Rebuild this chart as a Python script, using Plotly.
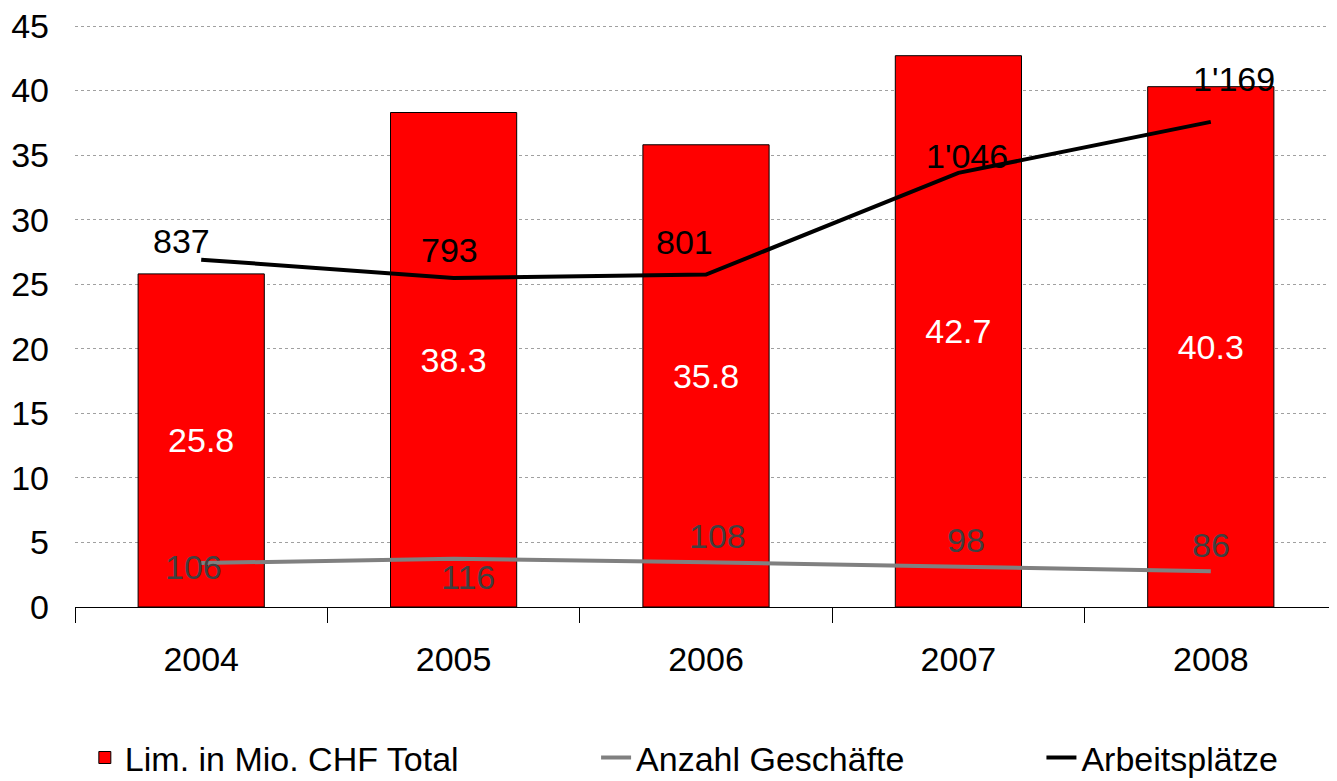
import plotly.graph_objects as go

years = ["2004", "2005", "2006", "2007", "2008"]
lim_chf = [25.8, 38.3, 35.8, 42.7, 40.3]
anzahl = [106, 116, 108, 98, 86]
arbeitsplaetze = [837, 793, 801, 1046, 1169]
arbeits_labels = ["837", "793", "801", "1'046", "1'169"]
anzahl_labels = ["106", "116", "108", "98", "86"]

# label offsets (pixels) as placed in the original chart
arbeits_shift = [(-20, 19), (-4, 28), (-22, 33), (9, 17), (23, 43)]
anzahl_shift = [(-8, -4), (14, -18), (11, 26), (8, 26), (0, 26)]

FONT = "Liberation Sans, Arial, sans-serif"
FS = 34

Y_MAX = 45.232          # a little above 45 so the top gridline is drawn
Y2_MAX = 1400 * Y_MAX / 45

xpos = list(range(len(years)))
boundaries = [i - 0.5 for i in range(len(years) + 1)]

fig = go.Figure()
fig.add_trace(go.Bar(
    x=xpos, y=lim_chf, name="Lim. in Mio. CHF Total",
    marker=dict(color="#FF0000", line=dict(color="#000000", width=1)),
    text=[f"{v:.1f}" for v in lim_chf], textposition="inside",
    insidetextanchor="middle", textangle=0,
    textfont=dict(color="white", size=FS, family=FONT),
    legend="legend", width=0.5,
))
fig.add_trace(go.Scatter(
    x=xpos, y=anzahl, name="Anzahl Geschäfte", mode="lines",
    line=dict(color="#808080", width=4), yaxis="y2", legend="legend2",
))
fig.add_trace(go.Scatter(
    x=xpos, y=arbeitsplaetze, name="Arbeitsplätze", mode="lines",
    line=dict(color="#000000", width=4), yaxis="y2", legend="legend3",
))

annotations = []
for x, y, t, (dx, dy) in zip(xpos, arbeitsplaetze, arbeits_labels, arbeits_shift):
    annotations.append(dict(x=x, y=y, xref="x", yref="y2", text=t, showarrow=False,
                            xshift=dx, yshift=dy, font=dict(color="#000000", size=FS, family=FONT)))
for x, y, t, (dx, dy) in zip(xpos, anzahl, anzahl_labels, anzahl_shift):
    annotations.append(dict(x=x, y=y, xref="x", yref="y2", text=t, showarrow=False,
                            xshift=dx, yshift=dy, font=dict(color="#404040", size=FS, family=FONT)))

legend_common = dict(orientation="h", yanchor="middle", y=-0.2584, xanchor="left",
                     font=dict(size=FS, family=FONT, color="#000000"),
                     bgcolor="rgba(0,0,0,0)", itemwidth=30)

fig.update_layout(
    width=1337, height=781,
    margin=dict(l=67, r=8, t=15, b=182, autoexpand=False),
    paper_bgcolor="white", plot_bgcolor="white",
    font=dict(family=FONT, size=FS, color="#000000"),
    showlegend=True,
    xaxis=dict(range=[-0.5, len(years) - 0.5], tickmode="array", tickvals=xpos, ticktext=years,
               ticks="", showline=True, linecolor="#000000", linewidth=1, showgrid=False,
               zeroline=False, ticklabelstandoff=22,
               minor=dict(tickmode="array", tickvals=boundaries, ticks="outside", ticklen=15,
                          tickcolor="#000000", tickwidth=1, showgrid=False),
               tickfont=dict(size=FS, family=FONT, color="#000000")),
    yaxis=dict(range=[0, Y_MAX], tick0=0, dtick=5, showgrid=True, gridcolor="#a0a0a0",
               griddash="dot", gridwidth=1, showline=False, zeroline=False, ticks="",
               ticklabelstandoff=25, ticklabeloverflow="allow",
               tickfont=dict(size=FS, family=FONT, color="#000000")),
    yaxis2=dict(range=[0, Y2_MAX], overlaying="y", side="right", visible=False,
                showgrid=False, zeroline=False),
    legend=dict(legend_common, x=0.0078),
    legend2=dict(legend_common, x=0.4129),
    legend3=dict(legend_common, x=0.7658),
    annotations=annotations,
)

fig.write_html("out.html")
